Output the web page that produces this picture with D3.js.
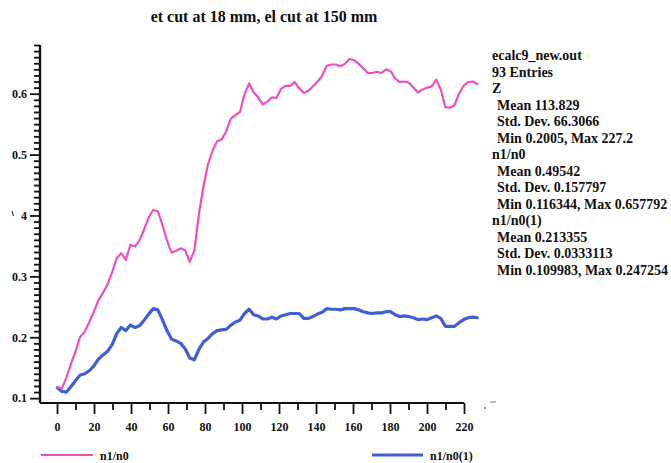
<!DOCTYPE html>
<html>
<head>
<meta charset="utf-8">
<script src="https://cdn.jsdelivr.net/npm/d3@7"></script>
<style>
  body { margin: 0; background: #fff; }
  svg { display: block; }
  text { font-family: "Liberation Serif", "DejaVu Serif", serif; font-weight: bold; fill: #111; }
</style>
</head>
<body>
<svg id="chart" width="671" height="463"></svg>
<script>
// Z position of each entry (mm)
const zValues = [0.2, 2.67, 5.13, 7.60, 10.07, 12.54, 15.00, 17.47, 19.94, 22.41,
  24.87, 27.34, 29.81, 32.28, 34.74, 37.21, 39.68, 42.15, 44.61, 47.08,
  49.55, 52.02, 54.48, 56.95, 59.42, 61.88, 64.35, 66.82, 69.29, 71.75,
  74.22, 76.69, 79.16, 81.62, 84.09, 86.56, 89.03, 91.49, 93.96, 96.43,
  98.90, 101.36, 103.83, 106.30, 108.77, 111.23, 113.70, 116.17, 118.63, 121.10,
  123.57, 126.04, 128.50, 130.97, 133.44, 135.91, 138.37, 140.84, 143.31, 145.78,
  148.24, 150.71, 153.18, 155.65, 158.11, 160.58, 163.05, 165.52, 167.98, 170.45,
  172.92, 175.38, 177.85, 180.32, 182.79, 185.25, 187.72, 190.19, 192.66, 195.12,
  197.59, 200.06, 202.53, 204.99, 207.46, 209.93, 212.40, 214.86, 217.33, 219.80,
  222.27, 224.73, 227.20];

// n1/n0
const ratioN1N0 = [0.118, 0.116, 0.134, 0.157, 0.177, 0.201, 0.209, 0.225, 0.242, 0.261,
  0.273, 0.287, 0.307, 0.330, 0.338, 0.327, 0.352, 0.349, 0.359, 0.377,
  0.397, 0.409, 0.407, 0.385, 0.359, 0.339, 0.342, 0.346, 0.343, 0.324,
  0.342, 0.402, 0.448, 0.484, 0.507, 0.522, 0.525, 0.538, 0.559, 0.565,
  0.570, 0.599, 0.617, 0.602, 0.594, 0.582, 0.587, 0.594, 0.593, 0.608,
  0.613, 0.613, 0.619, 0.609, 0.601, 0.605, 0.612, 0.620, 0.629, 0.646,
  0.648, 0.648, 0.645, 0.649, 0.657, 0.655, 0.649, 0.642, 0.634, 0.634,
  0.636, 0.634, 0.640, 0.637, 0.625, 0.619, 0.620, 0.618, 0.610, 0.602,
  0.607, 0.610, 0.612, 0.623, 0.607, 0.578, 0.577, 0.581, 0.600, 0.613,
  0.619, 0.620, 0.616];

// n1/n0(1)
const ratioN1N0b = [0.117, 0.111, 0.110, 0.119, 0.129, 0.138, 0.140, 0.145, 0.153, 0.164,
  0.171, 0.177, 0.188, 0.206, 0.216, 0.211, 0.220, 0.216, 0.219, 0.228,
  0.238, 0.247, 0.245, 0.229, 0.211, 0.197, 0.194, 0.190, 0.181, 0.166,
  0.163, 0.180, 0.192, 0.198, 0.206, 0.211, 0.212, 0.213, 0.220, 0.225,
  0.228, 0.239, 0.246, 0.237, 0.235, 0.230, 0.230, 0.233, 0.230, 0.235,
  0.237, 0.239, 0.239, 0.239, 0.231, 0.231, 0.234, 0.238, 0.241, 0.247,
  0.246, 0.246, 0.245, 0.247, 0.247, 0.247, 0.245, 0.242, 0.240, 0.239,
  0.240, 0.240, 0.242, 0.242, 0.237, 0.234, 0.235, 0.234, 0.232, 0.229,
  0.230, 0.229, 0.232, 0.235, 0.231, 0.218, 0.218, 0.218, 0.224, 0.229,
  0.232, 0.233, 0.232];

const seriesNames = ["n1/n0", "n1/n0(1)"];
const seriesColors = ["#ee4fbf", "#3f5fd6"];

const xMajorTicks = [0, 20, 40, 60, 80, 100, 120, 140, 160, 180, 200, 220];
const xMinorTicks = [10, 30, 50, 70, 90, 110, 130, 150, 170, 190, 210];
const yMajorTicks = [0.1, 0.2, 0.3, 0.4, 0.5, 0.6];
const yTickLabels = ["0.1", "0.2", "0.3", "4", "0.5", "0.6"];

const titleText = "et cut at 18 mm, el cut at 150 mm";
const statsLines = [
  "ecalc9_new.out", "93 Entries", "Z",
  " Mean 113.829", " Std. Dev. 66.3066", " Min 0.2005, Max 227.2",
  "n1/n0",
  " Mean 0.49542", " Std. Dev. 0.157797", " Min 0.116344, Max 0.657792",
  "n1/n0(1)",
  " Mean 0.213355", " Std. Dev. 0.0333113", " Min 0.109983, Max 0.247254"
];

const svg = d3.select("#chart");

const x = d3.scaleLinear().domain([-9.2, 220]).range([40, 464]);
const y = d3.scaleLinear().domain([0.092, 0.68]).range([403, 45]);

// title
svg.append("text")
  .attr("x", 264).attr("y", 22)
  .attr("text-anchor", "middle")
  .style("font-size", "16px")
  .text(titleText);

// y axis: minor ticks every 0.01, major every 0.1
const yMinor = d3.range(10, 69).map(v => v / 100).filter(v => !yMajorTicks.some(m => Math.abs(m - v) < 1e-9));
const yAxisMinor = svg.append("g").attr("transform", "translate(40,0)")
  .call(d3.axisLeft(y).tickValues(yMinor).tickSize(6).tickFormat(""));
const yAxisMajor = svg.append("g").attr("transform", "translate(40,0)")
  .call(d3.axisLeft(y).tickValues(yMajorTicks).tickSize(10).tickPadding(3)
    .tickFormat((d, i) => yTickLabels[i]));
[yAxisMinor, yAxisMajor].forEach(g => {
  g.select(".domain").attr("stroke", "#111").attr("stroke-width", 2.2)
    .attr("d", `M0,${y.range()[0]}V${y.range()[1]}`);
  g.selectAll(".tick line").attr("stroke", "#111").attr("stroke-width", 1.8);
});
yAxisMajor.selectAll(".tick text").style("font-size", "12px").attr("fill", "#111");
// stray speck left of the 0.4 label
svg.append("path").attr("d", "M12,211 L13.5,216").attr("stroke", "#444").attr("stroke-width", 1.2);

// x axis
const xAxisMinor = svg.append("g").attr("transform", "translate(0,403)")
  .call(d3.axisBottom(x).tickValues(xMinorTicks).tickSize(7).tickFormat(""));
const xAxisMajor = svg.append("g").attr("transform", "translate(0,403)")
  .call(d3.axisBottom(x).tickValues(xMajorTicks).tickSize(11).tickPadding(8)
    .tickFormat(d3.format("d")));
[xAxisMinor, xAxisMajor].forEach(g => {
  g.select(".domain").attr("stroke", "#111").attr("stroke-width", 2.2)
    .attr("d", `M${x.range()[0]},0H${x(220)}`);
  g.selectAll(".tick line").attr("stroke", "#111").attr("stroke-width", 1.8);
});
xAxisMajor.selectAll(".tick text").style("font-size", "12px").attr("fill", "#111");
// specks past the end of the x axis
svg.append("circle").attr("cx", 485).attr("cy", 408).attr("r", 0.9).attr("fill", "#555");
svg.append("path").attr("d", "M490,402H496").attr("stroke", "#777").attr("stroke-width", 1);

// curves
const line = d3.line().x(d => x(d[0])).y(d => y(d[1])).curve(d3.curveLinear);
const dataPink = zValues.map((z, i) => [z, ratioN1N0[i]]);
const dataBlue = zValues.map((z, i) => [z, ratioN1N0b[i]]);

svg.append("path").datum(dataBlue)
  .attr("d", line).attr("fill", "none")
  .attr("stroke", seriesColors[1]).attr("stroke-width", 3.2)
  .attr("stroke-linejoin", "round").attr("stroke-linecap", "round");
svg.append("path").datum(dataPink)
  .attr("d", line).attr("fill", "none")
  .attr("stroke", seriesColors[0]).attr("stroke-width", 2.2)
  .attr("stroke-linejoin", "round").attr("stroke-linecap", "round");

// statistics block
const stats = svg.append("g").attr("transform", "translate(492,0)");
statsLines.forEach((s, i) => {
  stats.append("text")
    .attr("x", s.startsWith(" ") ? 5 : 0)
    .attr("y", 60 + i * 16.5)
    .style("font-size", "14px")
    .text(s.trim());
});

// legend
const legendItems = [
  { x0: 41, x1: 93, tx: 100, color: seriesColors[0], w: 2.2, name: seriesNames[0] },
  { x0: 372, x1: 423, tx: 430, color: seriesColors[1], w: 3, name: seriesNames[1] }
];
legendItems.forEach(it => {
  svg.append("line").attr("x1", it.x0).attr("x2", it.x1).attr("y1", 455).attr("y2", 455)
    .attr("stroke", it.color).attr("stroke-width", it.w);
  svg.append("text").attr("x", it.tx).attr("y", 460)
    .style("font-size", "12px").text(it.name);
});
</script>
</body>
</html>
